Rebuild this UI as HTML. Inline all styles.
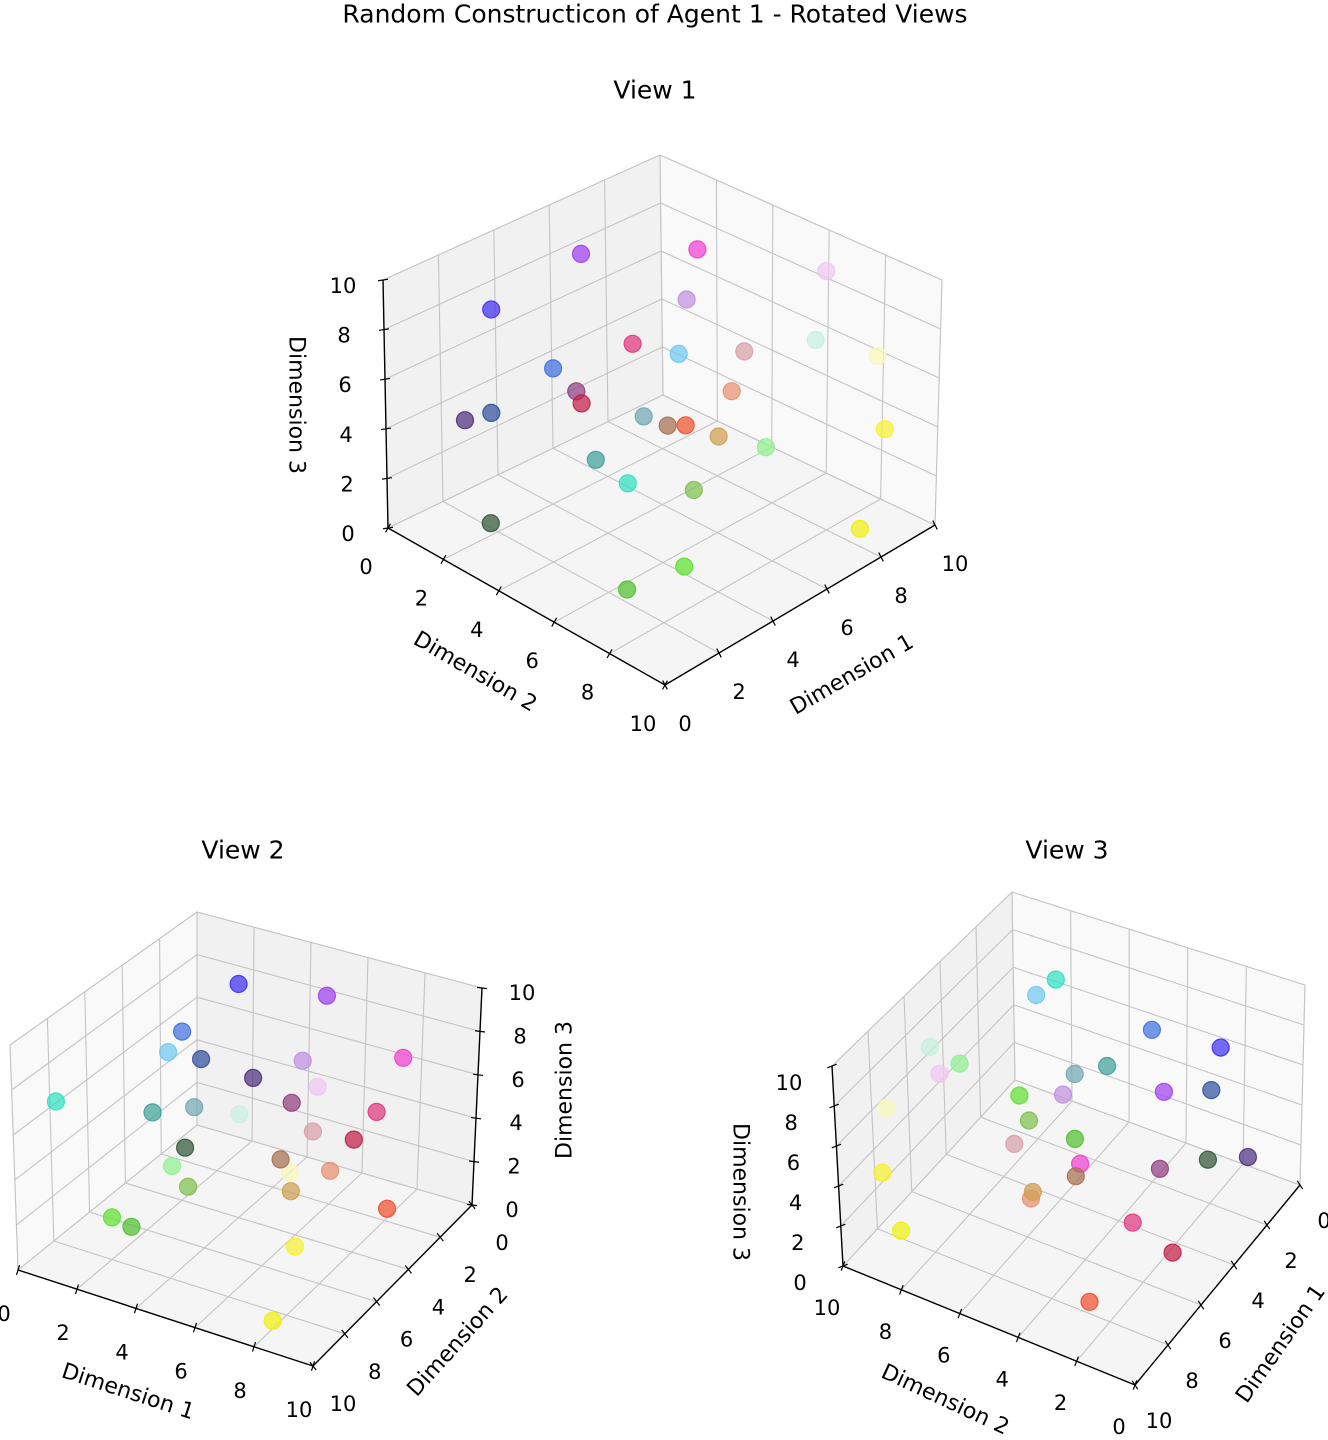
<!DOCTYPE html>
<html><head><meta charset="utf-8"><style>
html,body{margin:0;padding:0;background:#fff;}
svg{display:block;font-family:"DejaVu Sans","Liberation Sans",sans-serif;}
</style></head><body>
<svg id="fig" width="1328" height="1440" viewBox="0 0 1328 1440" xmlns="http://www.w3.org/2000/svg">
<rect width="1328" height="1440" fill="#fff"/>
<text x="655" y="14" font-size="25" text-anchor="middle" dominant-baseline="central">Random Constructicon of Agent 1 - Rotated Views</text>
<g id="v1"></g>
<g id="v2"></g>
<g id="v3"></g>
</svg>
<script>
// ---- data ----
const pointNames = ["violet","magenta","blue","lavender","light-purple","pink-crimson","cornflower","light-blue","dusty-pink","pale-mint","pale-yellow","purple-maroon","navy","dark-purple","crimson","salmon","teal-gray","brown","orange-red","tan","yellow","yellow-2","light-green","teal","olive","dark-green","green","green-2","turquoise"];
const dim1 = [5.54,8.78,2.40,8.58,6.44,7.37,2.04,3.46,7.44,6.78,8.67,4.73,1.58,2.34,6.19,7.67,3.53,5.73,8.36,6.64,8.91,8.13,4.70,1.98,4.07,1.20,2.30,1.92,0.39];
const dim2 = [1.57,2.52,1.46,7.29,4.44,1.57,4.01,7.09,5.52,8.70,9.07,2.16,2.23,0.51,0.88,4.85,5.77,4.46,2.49,5.40,9.16,9.09,9.00,5.58,7.04,2.54,8.44,6.75,8.29];
const dim3 = [9.10,8.06,8.43,9.80,8.33,4.43,7.73,9.27,6.24,8.80,7.23,4.27,5.15,3.42,2.24,4.12,5.99,3.62,1.03,3.18,4.15,0.56,5.90,5.03,3.46,1.12,2.29,0.61,6.60];
const pointColors = ["#a040f0","#f040d0","#4030f0","#f0c8f0","#c090e0","#e03880","#4070e0","#70c8f0","#d8a0a8","#c8f0e0","#f8f8b8","#904080","#3050a0","#503080","#c02048","#e89070","#70a8b0","#a87050","#f05030","#d0a050","#f8f030","#f0f010","#90f090","#40a098","#80c050","#305838","#60e030","#50c030","#30e0c0"];
const tickValues = [0,2,4,6,8,10];
const tickLabels = ["0","2","4","6","8","10"];
const axisTitles = ["Dimension 1","Dimension 2","Dimension 3"];

// ---- view geometry (screen positions of box corners c[x][y][z]) ----
const views = [
 {id:"v1", title:"View 1", tpos:[655,90],
  c:{"000":[388,528],"100":[663,395],"110":[935,525],"010":[665,685],"001":[383,280],"101":[660,155],"111":[942,280],"011":[665,427]},
  walls:[["y",0],["x",10]], xAxisAt:10, yAxisAt:0, zAxisAt:[0,0],
  off:{x:[20,39],y:[-22,39],z:[-40,6]},
  titles:[[852,675,-30],[475,672,30],[296,405,90]]},
 {id:"v2", title:"View 2", tpos:[243,850],
  c:{"000":[197,1125],"100":[472,1205],"110":[313,1366],"010":[18,1270],"001":[197,912],"101":[482,988],"111":[315,1134],"011":[10,1045]},
  walls:[["x",0],["y",0]], xAxisAt:10, yAxisAt:10, zAxisAt:[10,0],
  off:{x:[-14,44],y:[30,38],z:[40,5]},
  titles:[[128,1392,18],[458,1342,-48],[565,1090,-90]]},
 {id:"v3", title:"View 3", tpos:[1067,850],
  c:{"000":[1300,1185],"100":[1135,1385],"110":[843,1266],"010":[1015,1080],"001":[1305,985],"101":[1135,1173],"111":[832,1066],"011":[1012,892]},
  walls:[["y",10],["x",0]], xAxisAt:0, yAxisAt:10, zAxisAt:[10,10],
  off:{x:[24,36],y:[-16,42],z:[-43,17]},
  titles:[[1281,1344,-55],[945,1400,25],[740,1192,90]]}
];
const NS="http://www.w3.org/2000/svg";
function mk(tag,attrs,parent){const e=document.createElementNS(NS,tag);for(const k in attrs)e.setAttribute(k,attrs[k]);parent.appendChild(e);return e;}
function proj(v,x,y,z){
  const u=x/10,w=y/10,t=z/10;let sx=0,sy=0;
  for(const i of [0,1])for(const j of [0,1])for(const k of [0,1]){
    const wt=(i?u:1-u)*(j?w:1-w)*(k?t:1-t);const p=v.c[""+i+j+k];sx+=wt*p[0];sy+=wt*p[1];}
  return [sx,sy];
}
function pt(v,a){return a[0].toFixed(1)+","+a[1].toFixed(1);}
views.forEach(v=>{
  const g=document.getElementById(v.id);
  const tt=mk("text",{x:v.tpos[0],y:v.tpos[1],"font-size":25,"text-anchor":"middle","dominant-baseline":"central"},g);
  
  
  tt.textContent=v.title;
  const panes=[["z",0]].concat(v.walls);
  panes.forEach(([ax,val])=>{
    let corners,fill;
    if(ax==="z"){corners=[[0,0,val],[10,0,val],[10,10,val],[0,10,val]];fill="#f5f5f5";}
    else if(ax==="x"){corners=[[val,0,0],[val,10,0],[val,10,10],[val,0,10]];fill="#f9f9f9";}
    else {corners=[[0,val,0],[10,val,0],[10,val,10],[0,val,10]];fill="#f1f1f1";}
    const pg=mk("polygon",{points:corners.map(c=>pt(v,proj(v,...c))).join(" "),fill:fill,stroke:"#e2e2e2","stroke-width":1},g);
    
    
    tickValues.forEach(tv=>{
      let segs;
      if(ax==="z") segs=[[[tv,0,val],[tv,10,val]],[[0,tv,val],[10,tv,val]]];
      else if(ax==="x") segs=[[[val,tv,0],[val,tv,10]],[[val,0,tv],[val,10,tv]]];
      else segs=[[[tv,val,0],[tv,val,10]],[[0,val,tv],[10,val,tv]]];
      segs.forEach(s=>{const a=proj(v,...s[0]),b=proj(v,...s[1]);
        const l=mk("line",{x1:a[0],y1:a[1],x2:b[0],y2:b[1],stroke:"#c4c4c4","stroke-width":1.1},g);
        
        });
    });
  });
  const axes=[
    {k:"x",from:[0,v.xAxisAt,0],to:[10,v.xAxisAt,0],at:tv=>[tv,v.xAxisAt,0]},
    {k:"y",from:[v.yAxisAt,0,0],to:[v.yAxisAt,10,0],at:tv=>[v.yAxisAt,tv,0]},
    {k:"z",from:[v.zAxisAt[0],v.zAxisAt[1],0],to:[v.zAxisAt[0],v.zAxisAt[1],10],at:tv=>[v.zAxisAt[0],v.zAxisAt[1],tv]}];
  axes.forEach((A,ai)=>{
    const a=proj(v,...A.from),b=proj(v,...A.to);
    const al=mk("line",{x1:a[0],y1:a[1],x2:b[0],y2:b[1],stroke:"#000","stroke-width":1.4},g);
    
    
    const o=v.off[A.k];const n=Math.hypot(o[0],o[1]);const d=[o[0]/n*5,o[1]/n*5];
    tickValues.forEach((tv,ti)=>{
      const p=proj(v,...A.at(tv));
      const tk=mk("line",{x1:p[0]-d[0],y1:p[1]-d[1],x2:p[0]+d[0],y2:p[1]+d[1],stroke:"#000","stroke-width":1.2},g);
      
      
      const lb=mk("text",{x:p[0]+o[0],y:p[1]+o[1],"font-size":21,"text-anchor":"middle","dominant-baseline":"central"},g);
      
      
      lb.textContent=tickLabels[ti];
    });
    const T=v.titles[ai];
    const at=mk("text",{x:T[0],y:T[1],"font-size":22,"text-anchor":"middle","dominant-baseline":"central",transform:"rotate("+T[2]+" "+T[0]+" "+T[1]+")"},g);
    
    
    at.textContent=axisTitles[ai];
  });
  dim1.forEach((xv,i)=>{
    const p=proj(v,xv,dim2[i],dim3[i]);
    const c=mk("circle",{cx:p[0].toFixed(1),cy:p[1].toFixed(1),r:8.5,fill:pointColors[i],"fill-opacity":0.72,stroke:pointColors[i],"stroke-opacity":0.9,"stroke-width":1.2},g);
    
    
  });
});
</script>
</body></html>
